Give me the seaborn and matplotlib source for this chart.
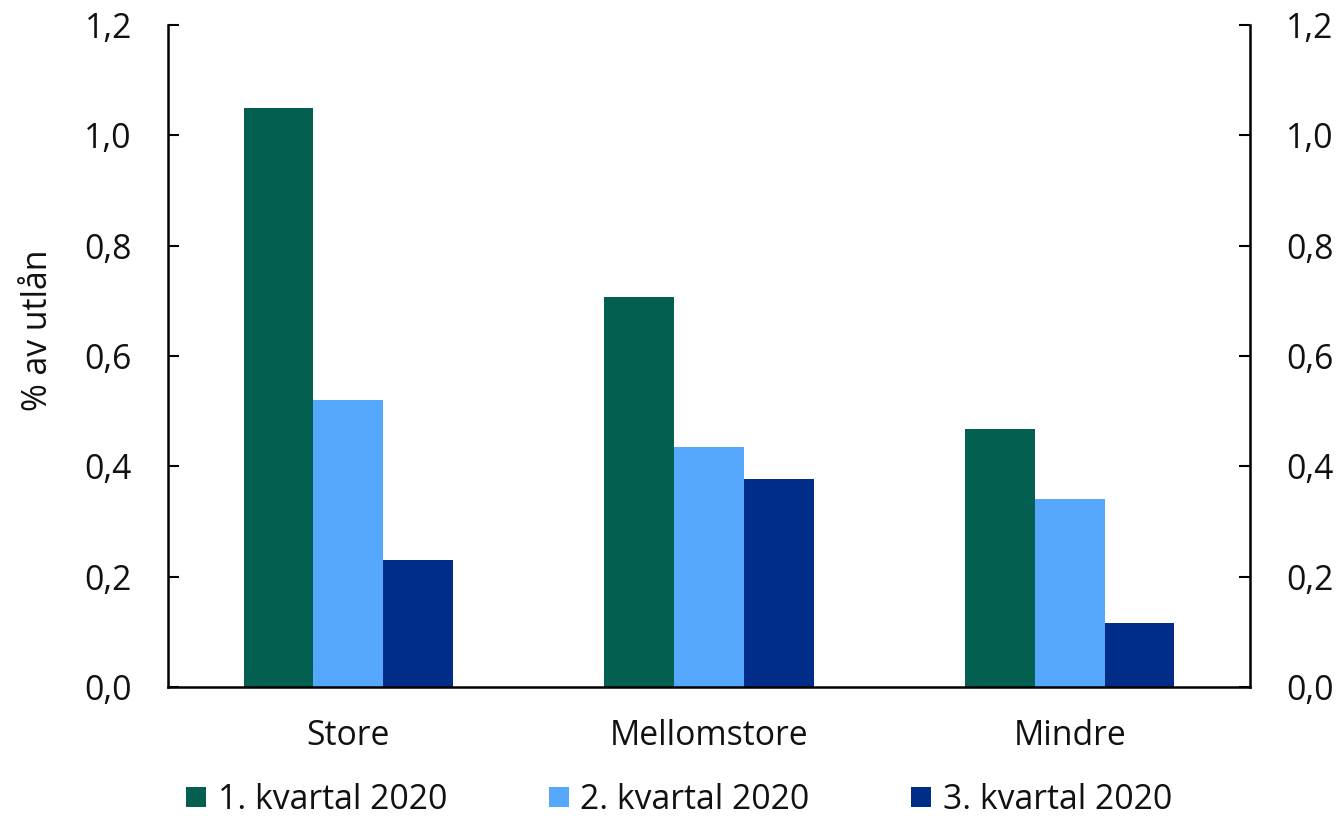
import matplotlib
matplotlib.use("Agg")
import matplotlib.pyplot as plt
from matplotlib.lines import Line2D
import seaborn as sns
import pandas as pd

categories = ["Store", "Mellomstore", "Mindre"]
series_names = ["1. kvartal 2020", "2. kvartal 2020", "3. kvartal 2020"]
q1_values = [1.05, 0.707, 0.468]
q2_values = [0.52, 0.435, 0.341]
q3_values = [0.23, 0.377, 0.116]
colors = ["#035F50", "#56A8FF", "#002D88"]
y_ticks = [0.0, 0.2, 0.4, 0.6, 0.8, 1.0, 1.2]
y_label = "% av utlån"

rows = []
for name, vals in zip(series_names, [q1_values, q2_values, q3_values]):
    for c, v in zip(categories, vals):
        rows.append({"kategori": c, "serie": name, "verdi": v})
df = pd.DataFrame(rows)

sns.set_theme(style="white")
plt.rcParams["font.family"] = ["Open Sans", "DejaVu Sans"]
FS = 24.3

fig = plt.figure(figsize=(13.39, 8.16), dpi=100)
ax = fig.add_axes([168/1339, 1-687/816, (1250-168)/1339, (687-25)/816])

sns.barplot(data=df, x="kategori", y="verdi", hue="serie", order=categories,
            hue_order=series_names, palette=colors, width=0.58, gap=0,
            saturation=1, linewidth=0, ax=ax, legend=False)

ax.set_xlim(-0.5, 2.5)
ax.set_ylim(0, 1.2)
ax.set_xlabel("")
ax.set_ylabel("")

# category boundary ticks
ax.set_xticks([-0.5, 0.5, 1.5, 2.5])
ax.set_xticklabels([])
ax.set_xticks([0, 1, 2], minor=True)
ax.set_xticklabels(categories, minor=True, fontsize=FS, color="#111111")
ax.tick_params(axis="x", which="major", direction="in", length=7, width=1.5, color="black")
ax.tick_params(axis="x", which="minor", length=0, pad=23)

ax.set_yticks(y_ticks)
ax.set_yticklabels([f"{t:.1f}".replace(".", ",") for t in y_ticks], fontsize=FS, color="#111111")
ax.tick_params(axis="y", direction="in", length=8, width=1.5, color="black", pad=26,
               left=True, right=True, labelleft=True, labelright=True)

for s in ["left", "right", "bottom"]:
    ax.spines[s].set_visible(True)
    ax.spines[s].set_color("black")
    ax.spines[s].set_linewidth(1.8)
ax.spines["top"].set_visible(False)
ax.grid(False)

fig.text(38/1339, 1-330/816, y_label, rotation=90, ha="center", va="center",
         fontsize=FS, color="#111111")

handles = [Line2D([0], [0], marker="s", linestyle="none", markersize=14,
                  markerfacecolor=c, markeredgewidth=0) for c in colors]
fig.legend(handles, series_names, loc="center", bbox_to_anchor=(679/1339, 1-800/816),
           ncol=3, frameon=False, fontsize=FS, handlelength=0.6, handletextpad=0.35,
           columnspacing=3.0, labelcolor="#111111")

fig.savefig("out.png", dpi=100)
